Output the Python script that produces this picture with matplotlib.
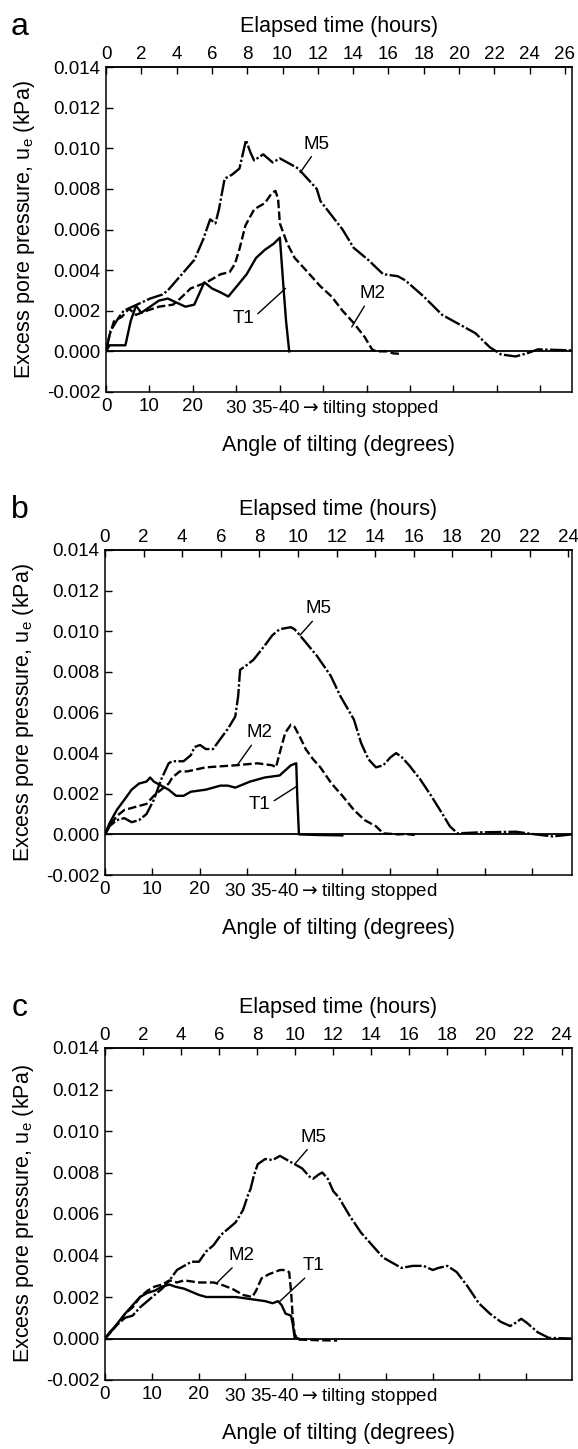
import numpy as np
import matplotlib
matplotlib.use("Agg")
import matplotlib.pyplot as plt
from matplotlib.transforms import offset_copy

FONT = ["Liberation Sans", "DejaVu Sans"]
plt.rcParams["font.family"] = FONT

# ---------------- data (time in hours, excess pore pressure in kPa) ----------------
# Panel a
a_T1_t = [0, 0.2, 1.1, 1.4, 1.7, 2.0, 2.5, 3.0, 3.5, 4.0, 4.5, 5.0, 5.57, 6.0, 6.5, 6.93,
          7.5, 7.97, 8.5, 9.0, 9.5, 9.85, 10.06, 10.2, 10.38]
a_T1_u = [0, 0.0003, 0.0003, 0.0015, 0.00225, 0.0019, 0.0022, 0.0025, 0.0026, 0.0024, 0.0022,
          0.0023, 0.0034, 0.0031, 0.0029, 0.0027, 0.0033, 0.0038, 0.0046, 0.0050, 0.0053,
          0.0056, 0.0031, 0.0015, 0.0]
a_M2_t = [0, 0.2, 0.46, 0.9, 1.3, 1.7, 2.3, 3.0, 3.8, 4.2, 4.8, 5.7, 6.5, 7.0, 7.3, 7.55, 7.9,
          8.4, 9.0, 9.4, 9.6, 9.75, 9.85, 10.27, 10.69, 11.32, 12.15, 12.78, 13.4, 14.03,
          14.66, 15.07, 15.3, 15.9, 16.3, 16.7]
a_M2_u = [0, 0.0008, 0.0015, 0.0017, 0.0021, 0.0018, 0.0020, 0.0022, 0.0023, 0.0026, 0.0031,
          0.0034, 0.0038, 0.0039, 0.0043, 0.0050, 0.0062, 0.0070, 0.0073, 0.0078, 0.0079,
          0.0075, 0.0063, 0.0053, 0.0046, 0.0040, 0.0032, 0.0027, 0.0020, 0.0014, 0.0007,
          0.0001, 0.0, 0.0, -0.0001, -0.00012]
a_M5_t = [0, 0.25, 0.67, 1.0, 1.5, 2.0, 2.5, 3.2, 3.5, 4.0, 4.5, 5.0, 5.5, 5.9, 6.2, 6.4,
          6.72, 7.14, 7.56, 7.93, 8.18, 8.39, 8.91, 9.44, 9.85, 10.27, 10.9, 11.1, 11.94,
          12.15, 13.4, 14.03, 14.86, 15.7, 16.53, 16.95, 18.0, 19.04, 20.08, 20.92, 21.75,
          22.38, 23.2, 23.84, 24.47, 26.35]
a_M5_u = [0, 0.0010, 0.0016, 0.0020, 0.0022, 0.0024, 0.0026, 0.0028, 0.0030, 0.0035, 0.0040,
          0.0045, 0.0055, 0.0065, 0.0063, 0.0070, 0.0085, 0.0087, 0.0090, 0.0104, 0.0098,
          0.0094, 0.0097, 0.0093, 0.0095, 0.0093, 0.0090, 0.0088, 0.0080, 0.0074, 0.0060,
          0.0051, 0.0045, 0.0038, 0.0037, 0.0035, 0.0027, 0.0018, 0.0013, 0.0009, 0.0002,
          -0.00015, -0.00025, -0.0001, 0.0001, 0.00005]

# Panel b
b_T1_t = [0, 0.23, 0.61, 1.0, 1.38, 1.76, 2.15, 2.34, 2.53, 2.91, 3.3, 3.68, 4.07, 4.45, 5.22,
          5.98, 6.37, 6.75, 7.52, 8.28, 9.05, 9.63, 9.91, 9.97, 10.05, 11.0, 12.3]
b_T1_u = [0, 0.00054, 0.0012, 0.0017, 0.0022, 0.0025, 0.0026, 0.0028, 0.0026, 0.0024, 0.0022,
          0.0019, 0.0019, 0.0021, 0.0022, 0.0024, 0.0024, 0.0023, 0.0026, 0.0028, 0.0029,
          0.0034, 0.0035, 0.0017, 0.0, -0.00003, -0.00005]
b_M2_t = [0, 0.23, 0.61, 1.0, 1.38, 1.76, 2.15, 2.53, 2.91, 3.3, 3.49, 3.87, 4.26, 5.22, 6.75,
          7.9, 8.67, 8.86, 9.05, 9.34, 9.63, 9.82, 10.1, 10.4, 10.78, 11.16, 11.74, 12.3,
          12.9, 13.46, 14.04, 14.42, 15.19, 15.57, 16.05]
b_M2_u = [0, 0.0004, 0.0009, 0.0012, 0.0013, 0.0014, 0.0015, 0.0019, 0.0022, 0.0025, 0.0028,
          0.0031, 0.0031, 0.0033, 0.0034, 0.0035, 0.0034, 0.0033, 0.0040, 0.0050, 0.0054,
          0.0053, 0.0048, 0.0042, 0.0037, 0.0033, 0.0025, 0.0019, 0.0012, 0.0007, 0.0004,
          0.00005, 0.0, 0.00002, -0.00003]
b_M5_t = [0, 0.23, 0.61, 1.0, 1.38, 1.76, 2.15, 2.53, 2.91, 3.3, 3.49, 4.07, 4.45, 4.64, 4.93,
          5.22, 5.6, 5.98, 6.37, 6.75, 6.9, 7.0, 7.3, 7.7, 8.28, 8.67, 9.05, 9.63, 9.82, 10.1,
          10.97, 11.7, 12.2, 12.9, 13.27, 13.65, 14.04, 14.42, 14.8, 15.09, 15.38, 15.76,
          16.34, 16.9, 17.49, 17.87, 18.26, 19.4, 21.3, 22.3, 23.2, 24.2]
b_M5_u = [0, 0.0004, 0.0007, 0.0008, 0.0006, 0.0007, 0.0010, 0.0017, 0.0027, 0.0035, 0.0036,
          0.0036, 0.0039, 0.0043, 0.0044, 0.0042, 0.0042, 0.0047, 0.0052, 0.0058, 0.0068,
          0.0081, 0.0083, 0.0086, 0.0093, 0.0098, 0.0101, 0.0102, 0.0101, 0.0098, 0.0088,
          0.0078, 0.0068, 0.00565, 0.0045, 0.0037, 0.0033, 0.0034, 0.0038, 0.0040, 0.0038,
          0.0034, 0.0027, 0.0019, 0.0010, 0.0004, 0.00005, 0.0001, 0.00013, 0.0, -0.0001, 0.0]

# Panel c
c_T1_t = [0, 0.29, 0.68, 1.06, 1.45, 1.84, 2.23, 2.61, 3.0, 3.39, 3.68, 4.16, 4.94, 5.32, 6.1,
          6.87, 7.65, 8.42, 8.81, 9.1, 9.29, 9.49, 9.78, 9.87, 9.97, 10.16]
c_T1_u = [0, 0.0003, 0.00076, 0.0012, 0.0016, 0.0020, 0.0022, 0.0023, 0.0025, 0.0026, 0.0025,
          0.0024, 0.0021, 0.0020, 0.0020, 0.0020, 0.0019, 0.0018, 0.0017, 0.0018, 0.0016,
          0.0012, 0.0011, 0.0007, 0.00003, 0.0]
c_M2_t = [0, 0.29, 0.68, 1.06, 1.45, 1.84, 2.23, 2.61, 3.0, 3.39, 3.78, 4.16, 4.94, 5.71, 6.1,
          6.68, 7.26, 7.74, 7.94, 8.23, 8.62, 9.2, 9.49, 9.68, 9.78, 9.87, 9.97, 10.16, 11.13,
          12.2]
c_M2_u = [0, 0.0003, 0.0007, 0.0012, 0.0015, 0.0020, 0.0023, 0.0025, 0.0026, 0.0028, 0.0027,
          0.0028, 0.0027, 0.0027, 0.0026, 0.0024, 0.0021, 0.0020, 0.0023, 0.0029, 0.0031,
          0.0033, 0.0033, 0.0032, 0.0023, 0.0010, 0.0002, -0.00005, -0.00008, -0.0001]
c_M5_t = [0, 0.29, 0.68, 1.06, 1.45, 1.84, 2.23, 2.61, 3.0, 3.39, 3.78, 4.16, 4.55, 4.94, 5.32,
          5.71, 6.1, 6.49, 6.87, 7.26, 7.55, 7.65, 7.84, 8.03, 8.42, 8.81, 9.2, 9.58, 9.97,
          10.36, 10.75, 10.94, 11.23, 11.42, 11.71, 12.0, 12.29, 12.87, 13.46, 14.04, 14.62,
          15.2, 15.59, 16.17, 16.75, 17.23, 17.52, 18.0, 18.49, 19.07, 19.65, 20.23, 20.81,
          21.3, 21.59, 21.88, 22.17, 22.75, 23.33, 24.5]
c_M5_u = [0, 0.00035, 0.0007, 0.0010, 0.0011, 0.0015, 0.0018, 0.0021, 0.0024, 0.0028, 0.0033,
          0.0035, 0.0037, 0.0037, 0.0042, 0.0045, 0.0050, 0.0053, 0.0056, 0.0062, 0.0070,
          0.0072, 0.0079, 0.0084, 0.00865, 0.0086, 0.0088, 0.0086, 0.0084, 0.0082, 0.0078,
          0.0077, 0.0079, 0.0080, 0.0077, 0.0071, 0.0068, 0.0059, 0.0051, 0.0045, 0.0039,
          0.0036, 0.0034, 0.0035, 0.0035, 0.0033, 0.0034, 0.0035, 0.0032, 0.0025, 0.0017,
          0.0012, 0.0008, 0.0006, 0.00076, 0.00095, 0.00076, 0.0003, 0.00003, 0.0]

# axis / tick texts
panel_letters = ["a", "b", "c"]
time_max = [26.4, 24.2, 24.55]
time_tick_max = [26, 24, 24]
y_ticks = [-0.002, 0.000, 0.002, 0.004, 0.006, 0.008, 0.010, 0.012, 0.014]
y_ticklabels = ["-0.002", "0.000", "0.002", "0.004", "0.006", "0.008", "0.010", "0.012", "0.014"]
angle_labels = ["0", "10", "20"]
angle_note = "30 35-40$\\rightarrow$tilting stopped"
hours_per_10deg = 2.46

# label annotations: (text, text position, pointed position, relpos)
labels_a = [("M5", (11.94, 0.0102), (11.0, 0.0088), (0.4, 0.0)),
            ("M2", (15.07, 0.00284), (13.92, 0.00120), (0.3, 0.0)),
            ("T1", (7.77, 0.0016), (10.17, 0.0031), (1.0, 0.6))]
labels_b = [("M5", (11.06, 0.0111), (10.1, 0.0098), (0.4, 0.0)),
            ("M2", (8.0, 0.0050), (6.85, 0.0034), (0.3, 0.0)),
            ("T1", (8.0, 0.00145), (9.91, 0.00235), (1.0, 0.6))]
labels_c = [("M5", (10.94, 0.0097), (9.97, 0.0084), (0.4, 0.0)),
            ("M2", (7.16, 0.0040), (5.9, 0.0027), (0.3, 0.0)),
            ("T1", (10.94, 0.0035), (9.2, 0.0018), (0.3, 0.0))]

panels = [
    dict(T1=(a_T1_t, a_T1_u), M2=(a_M2_t, a_M2_u), M5=(a_M5_t, a_M5_u), labels=labels_a),
    dict(T1=(b_T1_t, b_T1_u), M2=(b_M2_t, b_M2_u), M5=(b_M5_t, b_M5_u), labels=labels_b),
    dict(T1=(c_T1_t, c_T1_u), M2=(c_M2_t, c_M2_u), M5=(c_M5_t, c_M5_u), labels=labels_c),
]

# ---------------- layout (pixel boxes in a 578 x 1449 figure) ----------------
W, H = 578, 1449
boxes = [(106, 67, 572, 392), (105, 550, 572, 875), (105, 1048, 572, 1380)]

fig = plt.figure(figsize=(W / 100, H / 100), dpi=100)

TICK_FS = 13.5
LABEL_FS = 15.5
LW = 1.7

for i, (p, box) in enumerate(zip(panels, boxes)):
    x0, y0, x1, y1 = box
    ax = fig.add_axes([x0 / W, 1 - y1 / H, (x1 - x0) / W, (y1 - y0) / H])
    ax.set_xlim(0, time_max[i])
    ax.set_ylim(-0.002, 0.014)

    ax.axhline(0, color="black", lw=1.3, zorder=1)
    ax.plot(p["T1"][0], p["T1"][1], color="black", lw=LW, solid_joinstyle="round")
    ax.plot(p["M2"][0], p["M2"][1], color="black", lw=LW, dashes=[3.6, 1.4])
    ax.plot(p["M5"][0], p["M5"][1], color="black", lw=LW, dashes=[7.0, 1.0, 1.0, 1.0])

    for txt, xyt, xy, rp in p["labels"]:
        ax.annotate(txt, xy=xy, xytext=xyt, ha="center", va="center",
                    fontsize=TICK_FS,
                    arrowprops=dict(arrowstyle="-", lw=1.0, color="black",
                                    shrinkA=1, shrinkB=0, relpos=rp))

    for s in ax.spines.values():
        s.set_linewidth(1.1)

    # left axis
    ax.set_yticks(y_ticks)
    ax.set_yticklabels(y_ticklabels)
    ax.tick_params(axis="y", direction="in", length=5, width=1.0, labelsize=TICK_FS,
                   pad=4, right=False)
    ax.set_ylabel("Excess pore pressure, u$\\mathregular{_e}$ (kPa)", fontsize=LABEL_FS,
                  labelpad=7)

    # bottom angle axis
    n_ticks = int(np.floor(time_max[i] / hours_per_10deg + 1e-9)) + 1
    bt = np.arange(n_ticks) * hours_per_10deg
    ax.set_xticks(bt)
    ax.set_xticklabels(angle_labels + [""] * (n_ticks - len(angle_labels)))
    ax.tick_params(axis="x", direction="in", length=5, width=1.0, labelsize=TICK_FS, pad=4)
    trans = offset_copy(ax.transAxes, fig=fig, y=-4, units="points")
    ax.text(0.255, 0, angle_note, transform=trans, ha="left", va="top", fontsize=TICK_FS)
    ax.set_xlabel("Angle of tilting (degrees)", fontsize=LABEL_FS, labelpad=15)

    # top time axis
    sec = ax.secondary_xaxis("top")
    sec.set_xticks(np.arange(0, time_tick_max[i] + 1, 2))
    sec.tick_params(direction="in", length=5, width=1.0, labelsize=TICK_FS, pad=3)
    sec.set_xlabel("Elapsed time (hours)", fontsize=LABEL_FS, labelpad=10)
    sec.spines["top"].set_linewidth(1.1)

    fig.text(20 / W, 1 - (y0 - 40) / H, panel_letters[i], fontsize=23,
             ha="center", va="center")

fig.savefig("out.png", dpi=100)
